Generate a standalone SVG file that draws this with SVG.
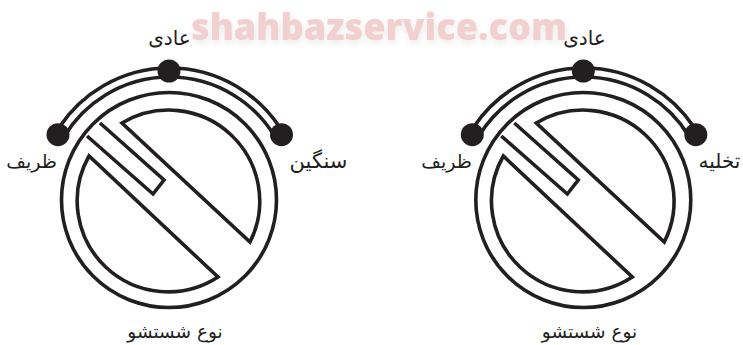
<svg xmlns="http://www.w3.org/2000/svg" xmlns:xlink="http://www.w3.org/1999/xlink" width="743" height="345" viewBox="0 0 743 345">
<style>
.l{fill:none;stroke:#231f20;stroke-width:3.6;stroke-linejoin:miter}
.d{fill:#231f20}
.t{font-family:"DejaVu Sans",sans-serif;font-size:19px;fill:#231f20;text-anchor:middle}
.w{font-family:"Open Sans",sans-serif;font-weight:800;font-size:37.500px;fill:#f2d0d0;filter:drop-shadow(1px 3px 3px rgba(0,0,0,.08))}
</style>
<defs>
<g id="dial">
<path class="l" d="M59.500 127A132 132 0 0 1 279.500 127"/>
<path class="l" d="M64.500 136A123 123 0 0 1 274.500 136"/>
<circle class="l" cx="169" cy="200" r="107.500"/>
<path class="l" d="M122 123A91 91 0 0 1 250 242Z"/>
<path class="l" d="M89 156A91 91 0 0 0 218 277Z"/>
<path class="l" d="M100 123L164 180L153 194L87 136"/>
<circle class="d" cx="58" cy="134.700" r="11.500"/>
<circle class="d" cx="169" cy="71" r="11.500"/>
<circle class="d" cx="281.500" cy="134.700" r="11.500"/>
</g>
</defs>
<text class="w" x="191" y="40" textLength="376" lengthAdjust="spacingAndGlyphs">shahbazservice.com</text>
<g id="connectors"></g>
<g id="dial-left">
<use xlink:href="#dial" href="#dial"/>
<text class="t" x="169.500" y="45" style="font-size:20px">عادی</text>
<text class="t" x="31.500" y="168">ظریف</text>
<text class="t" x="318.500" y="168" style="font-size:21px">سنگین</text>
<text class="t" x="175" y="338" style="font-size:18.500px">نوع شستشو</text>
</g>
<g id="dial-right">
<use xlink:href="#dial" href="#dial" x="414.300"/>
<text class="t" x="584.500" y="45" style="font-size:20px">عادی</text>
<text class="t" x="446.500" y="168">ظریف</text>
<text class="t" x="719.500" y="168" style="font-size:20px">تخلیه</text>
<text class="t" x="589.500" y="338" style="font-size:18.500px">نوع شستشو</text>
</g>
</svg>
